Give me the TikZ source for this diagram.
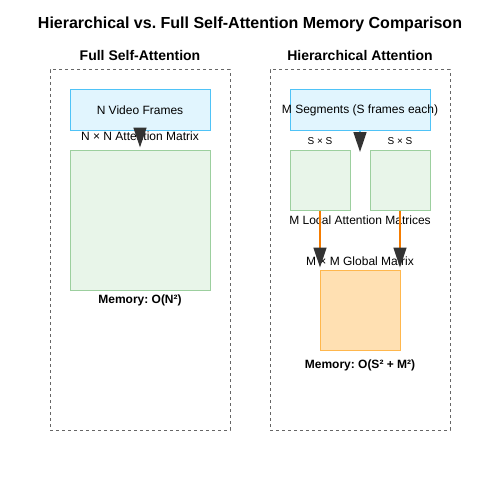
\documentclass[tikz,border=0pt]{standalone}
\usepackage{fontspec}
\setmainfont{Liberation Sans}
\usepackage{tikz}
\usetikzlibrary{arrows.meta,shapes}
\definecolor{inblue}{HTML}{E1F5FE}
\definecolor{inbluedraw}{HTML}{4FC3F7}
\definecolor{matgreen}{HTML}{E8F5E9}
\definecolor{matgreendraw}{HTML}{9CCF9E}
\definecolor{globorange}{HTML}{FFE0B2}
\definecolor{globorangedraw}{HTML}{FFB74D}
\definecolor{lineorange}{HTML}{F57C00}
\definecolor{tipgray}{HTML}{333333}
\frenchspacing
\tikzset{
  panel/.style={rectangle,draw=black!60,dashed,dash pattern=on 3pt off 3pt,line width=1pt,minimum width=180pt,minimum height=360pt,inner sep=0pt},
  inbox/.style={rectangle,draw=inbluedraw,fill=inblue,line width=1pt,minimum width=140pt,minimum height=40pt,inner sep=0pt},
  matbox/.style={rectangle,draw=matgreendraw,fill=matgreen,line width=1pt,inner sep=0pt},
  lbl/.style={font=\fontsize{12}{14}\selectfont,inner sep=0pt},
  smalllbl/.style={font=\fontsize{10}{12}\selectfont,inner sep=0pt},
  boldlbl/.style={font=\bfseries\fontsize{12}{14}\selectfont,inner sep=0pt},
  flow/.style={line width=1.5pt,-{Triangle[length=20pt,width=13pt,color=tipgray]}}
}
\begin{document}
\begin{tikzpicture}[x=1pt,y=-1pt]
		\useasboundingbox (0,0) rectangle (500,500);
		\node[font=\bfseries\fontsize{16}{19}\selectfont] (title) at (250,24) {Hierarchical vs. Full Self-Attention Memory Comparison};

		% full self-attention
		\node[panel] (fullpanel) at (140,250) {};
		\node[font=\bfseries\fontsize{14}{17}\selectfont] (fulltitle) at (140,55) {Full Self-Attention};
		\node[inbox] (frames) at (140,110) {};
		\node[lbl] (frameslbl) at (frames.center) {N Video Frames};
		\node[lbl] (nnlbl) at (140,136) {N × N Attention Matrix};
		\node[matbox,minimum width=140pt,minimum height=140pt] (fullmat) at (140,220) {};
		\node[boldlbl] (fullmem) at (140,300) {Memory: O(N²)};
		\draw[flow,draw=inbluedraw] (frames.south) -- ([yshift=2pt]fullmat.north);

		% hierarchical attention
		\node[panel] (hierpanel) at (360,250) {};
		\node[font=\bfseries\fontsize{14}{17}\selectfont] (hiertitle) at (360,55) {Hierarchical Attention};
		\node[inbox] (segments) at (360,110) {};
		\node[lbl] (segmentslbl) at (segments.center) {M Segments (S frames each)};
		\node[smalllbl] (sslbla) at (320,141) {S × S};
		\node[smalllbl] (sslblb) at (400,141) {S × S};
		\node[matbox,minimum width=60pt,minimum height=60pt] (locala) at (320,180) {};
		\node[matbox,minimum width=60pt,minimum height=60pt] (localb) at (400,180) {};
		\coordinate (localtop) at (360,152);
		\node[lbl] (locallbl) at (360,220) {M Local Attention Matrices};
		\node[lbl] (globlbl) at (360,261) {M × M Global Matrix};
		\node[rectangle,draw=globorangedraw,fill=globorange,line width=1pt,inner sep=0pt,minimum width=80pt,minimum height=80pt] (globmat) at (360,310) {};
		\node[boldlbl] (hiermem) at (360,365) {Memory: O(S² + M²)};
		\draw[flow,draw=inbluedraw] (segments.south) -- (localtop);
		\draw[flow,draw=lineorange] (locala.south) -- ([yshift=2pt]locala.south |- globmat.north);
		\draw[flow,draw=lineorange] (localb.south) -- ([yshift=2pt]localb.south |- globmat.north);
\end{tikzpicture}
\end{document}
